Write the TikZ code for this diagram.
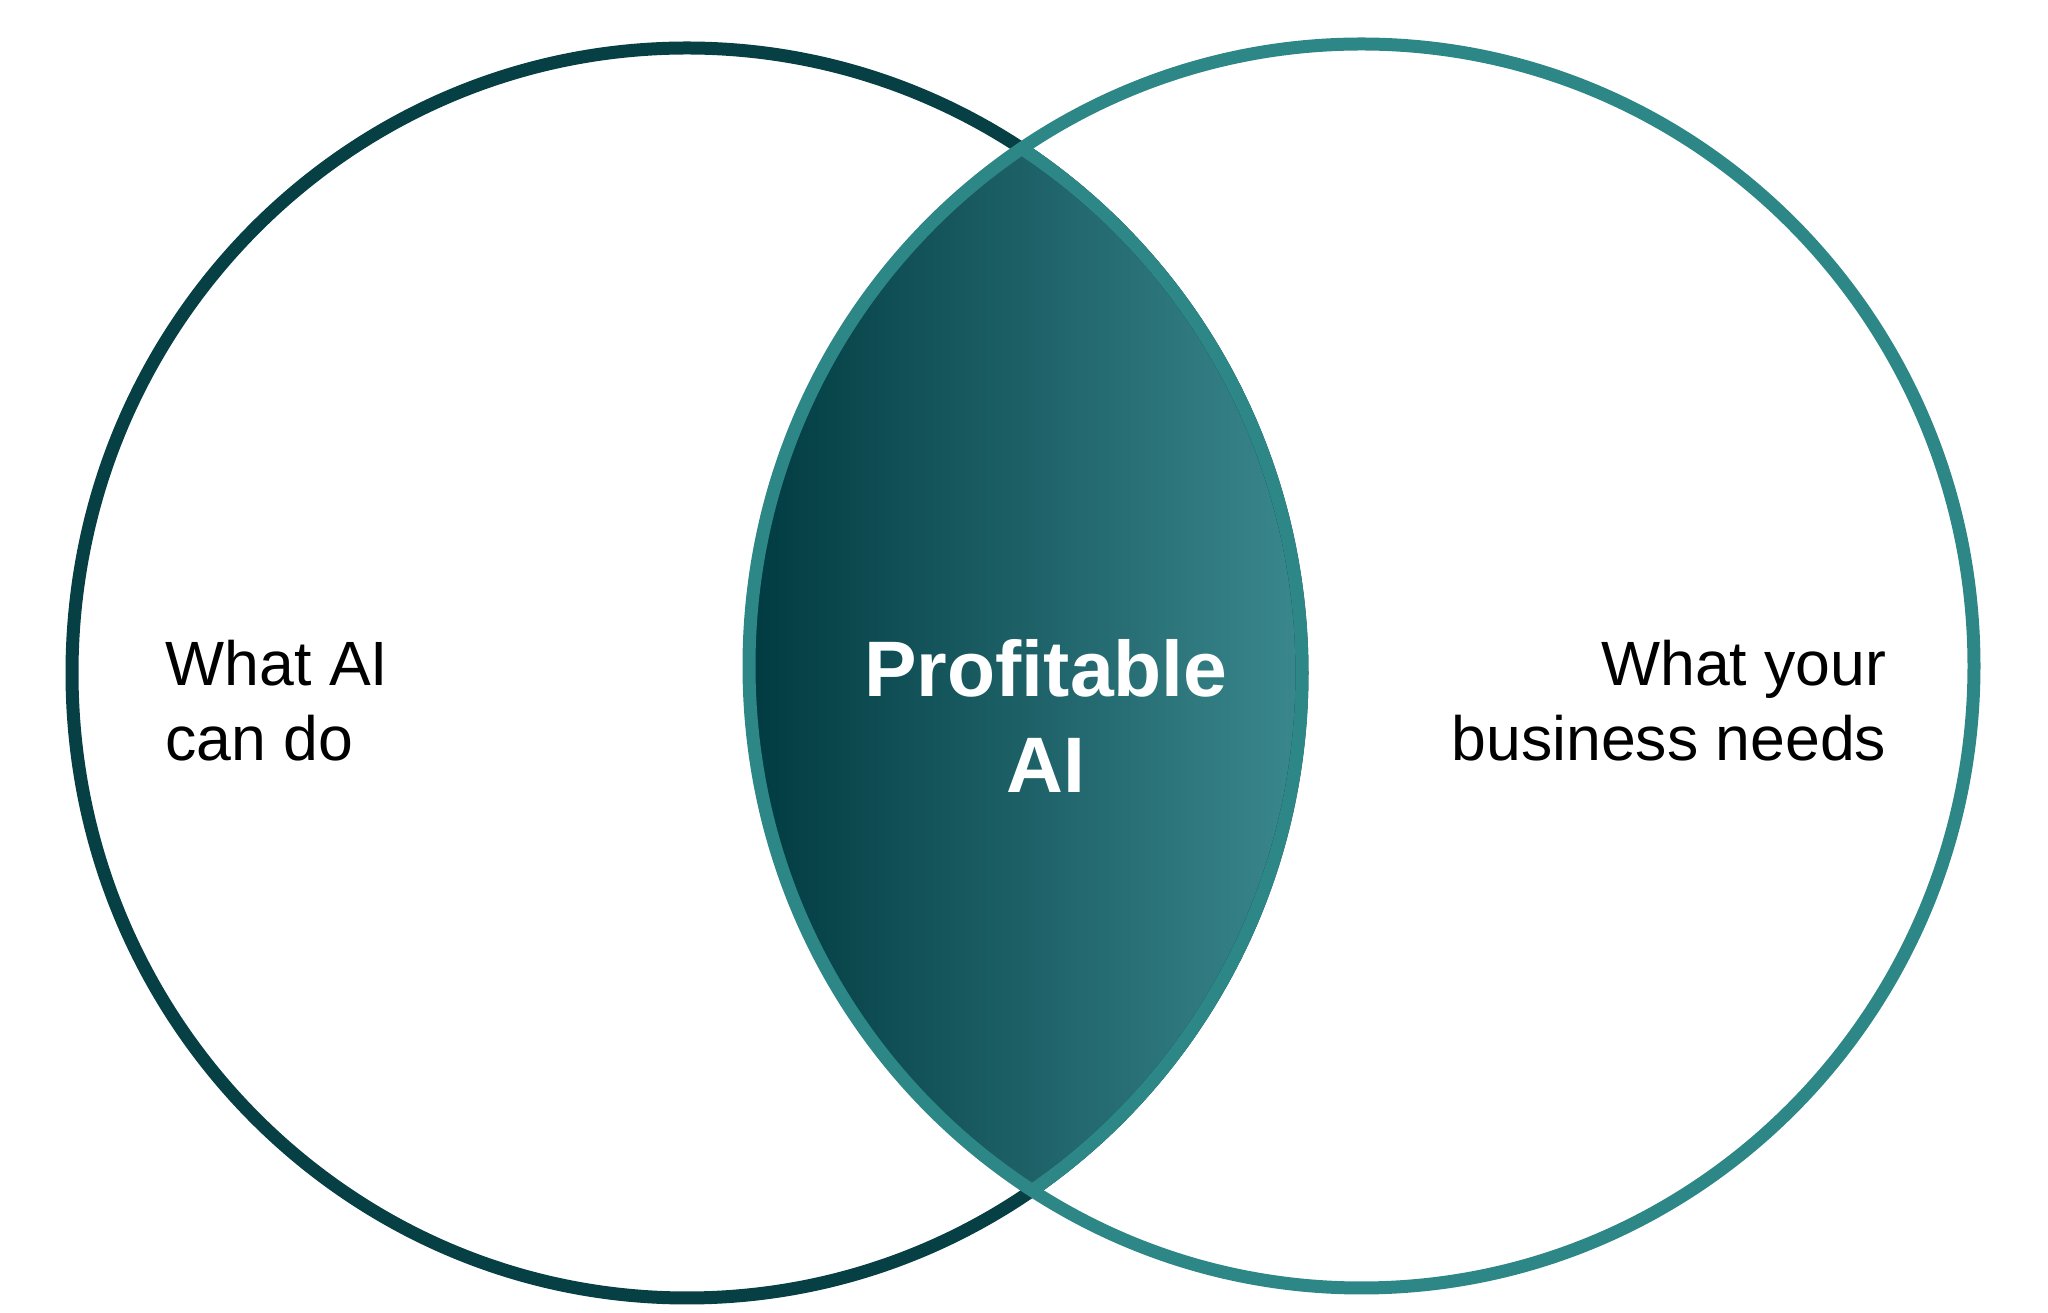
\documentclass[tikz,border=0pt]{standalone}
\usepackage{fontspec}
\setmainfont{Liberation Sans}
\usetikzlibrary{positioning}
\definecolor{ringdark}{HTML}{063F44}
\definecolor{ringlight}{HTML}{2E8787}
\definecolor{lensdark}{HTML}{003A40}
\definecolor{lensmid}{HTML}{236870}
\definecolor{lenslight}{HTML}{3A888E}
\tikzset{
	ring/.style={line width=1.3mm},
	sidelabel/.style={inner sep=0pt, font=\fontsize{17.8}{21.6}\selectfont},
	lenslabel/.style={inner sep=0pt, text=white, align=center,
		font=\fontsize{22.4}{27.3}\selectfont\bfseries}
}

\begin{document}
\begin{tikzpicture}
	\useasboundingbox (0,0) rectangle (20.48,13.13);
	\coordinate (aican) at (6.87,6.40);
	\coordinate (bizneed) at (13.615,6.47);

	\begin{scope}
		\clip (aican) ellipse (6.15 and 6.25);
		\clip (bizneed) ellipse (6.125 and 6.22);
		\shade [left color=lensdark, middle color=lensmid, right color=lenslight]
		(7.45,0) rectangle (13.05,13.13);
	\end{scope}

	\draw [ring, ringdark] (aican) ellipse (6.15 and 6.25);
	\draw [ring, ringlight] (bizneed) ellipse (6.125 and 6.22);
	\begin{scope}
		\clip (bizneed) ellipse (6.125 and 6.22);
		\draw [ring, ringlight] (aican) ellipse (6.15 and 6.25);
	\end{scope}

	\node [sidelabel, anchor=north west, align=left] (canlabel) at (1.65,6.74) {What AI\\can do};
	\node [sidelabel, anchor=north east, align=right] (needlabel) at (18.87,6.74) {What your\\business needs};
	\node [lenslabel, anchor=north] (profitlabel) at (10.46,6.74) {Profitable\\AI};
\end{tikzpicture}
\end{document}
